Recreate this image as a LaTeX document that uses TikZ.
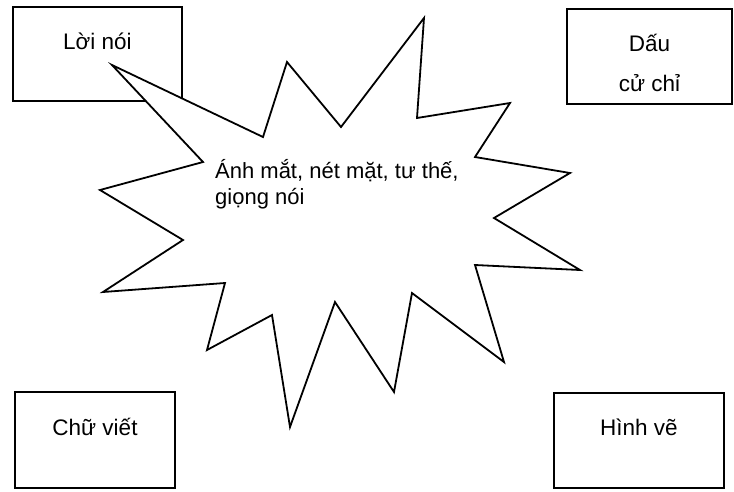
\documentclass[tikz,border=0pt]{standalone}
\usepackage{fontspec}
\setmainfont{Liberation Sans}
\usepackage{tikz}
\usetikzlibrary{positioning}

\begin{document}
\begin{tikzpicture}[
  x=1pt, y=-1pt,
  hop/.style={rectangle, draw=black, line width=1.6pt, fill=white, align=center, inner sep=0pt, font=\fontsize{22.5}{40}\selectfont, text height=18pt, text depth=28pt},
  sao/.style={draw=black, line width=1.8pt, line join=miter, fill=white},
  chu/.style={inner sep=0pt, align=left, font=\fontsize{22}{26}\selectfont}
]
\useasboundingbox (0,0) rectangle (734,491);
\node[hop, minimum width=169pt, minimum height=94pt] (loinoi) at (97.5,54) {Lời nói};
\node[hop, minimum width=165pt, minimum height=95pt, text height=76pt, text depth=6pt] (dau) at (649.5,56.5) {Dấu\\cử chỉ};
\node[hop, minimum width=160pt, minimum height=96pt] (chuviet) at (95,440) {Chữ viết};
\node[hop, minimum width=170pt, minimum height=95pt] (hinhve) at (639,440.5) {Hình vẽ};
% ngoi sao
\draw[sao] (112,65) -- (263,137) -- (287,62) -- (341,127) -- (424,18) -- (417,118)
  -- (510,103) -- (475,157) -- (570,173) -- (494,218) -- (580,270) -- (475,265)
  -- (504,362) -- (412,293) -- (394,392) -- (335,302) -- (290,427) -- (272,315)
  -- (207,350) -- (225,283) -- (103,292) -- (183,240) -- (100,190) -- (203,162) -- cycle;
\node[chu, anchor=base west] (noidung) at (215,204) {Ánh mắt, nét mặt, tư thế,\\giọng nói};
\end{tikzpicture}
\end{document}
